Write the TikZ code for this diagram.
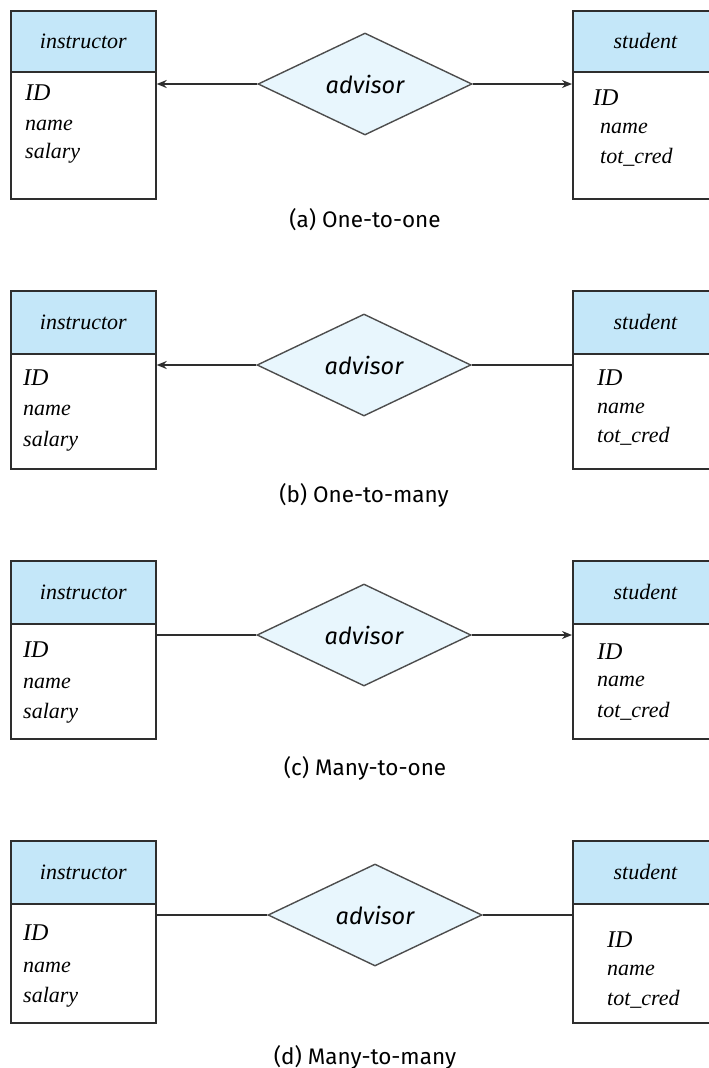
\documentclass[tikz,border=0pt]{standalone}
\usepackage{fontspec}
\setmainfont{Liberation Serif}
\newfontfamily\labelsans{Fira Sans}
\usetikzlibrary{shapes.geometric,arrows.meta}
\definecolor{hdrblue}{HTML}{C4E7F9}
\definecolor{relblue}{HTML}{E8F6FD}
\definecolor{ink}{HTML}{2E2E2E}
\begin{document}
\begin{tikzpicture}[x=1pt,y=-1pt,
  hdr/.style={draw=ink, line width=1.7pt, fill=hdrblue, minimum width=145pt, anchor=north west, inner sep=0pt, font=\fontsize{22}{24}\selectfont\itshape},
  bodybox/.style={draw=ink, line width=1.7pt, fill=white, minimum width=145pt, anchor=north west, inner sep=0pt},
  attr/.style={anchor=base west, inner sep=0pt, font=\fontsize{22}{24}\selectfont\itshape},
  idattr/.style={anchor=base west, inner sep=0pt, font=\fontsize{24}{26}\selectfont\itshape},
  rel/.style={diamond, draw=ink!85, line width=1.4pt, fill=relblue, minimum width=214pt, minimum height=102pt, inner sep=0pt, font=\labelsans\itshape\fontsize{23.5}{26}\selectfont},
  conn/.style={draw=ink, line width=1.6pt},
  tip/.style={-{Stealth[length=10pt,width=8pt]}},
  capt/.style={inner sep=0pt, font=\labelsans\fontsize{22.5}{26}\selectfont}]
\useasboundingbox (0,0) rectangle (709,1068);

% ---------- (a) One-to-one ----------
\node[bodybox, minimum height=127pt] (iab) at (10,71) {};
\node[hdr, minimum height=61pt] (iah) at (10,10) {instructor};
\node[idattr] (iaid) at (25,100) {ID};
\node[attr] (ianame) at (25,130) {name};
\node[attr] (iasal) at (25,158) {salary};
\node[bodybox, minimum height=127pt] (sab) at (572,71) {};
\node[hdr, minimum height=61pt] (sah) at (572,10) {student};
\node[idattr] (said) at (593,105) {ID};
\node[attr] (saname) at (600,133) {name};
\node[attr] (satot) at (600,163) {tot\_cred};
\node[rel] (ra) at (365,84) {advisor};
\draw[conn,tip] (ra.west) -- (ra.west -| iab.east);
\draw[conn,tip] (ra.east) -- (ra.east -| sab.west);
\node[capt] (capa) at (365,220) {(a) One-to-one};

% ---------- (b) One-to-many ----------
\node[bodybox, minimum height=115pt] (ibb) at (10,353) {};
\node[hdr, minimum height=63pt] (ibh) at (10,290) {instructor};
\node[idattr] (ibid) at (23,385) {ID};
\node[attr] (ibname) at (23,415) {name};
\node[attr] (ibsal) at (23,446) {salary};
\node[bodybox, minimum height=115pt] (sbb) at (572,353) {};
\node[hdr, minimum height=63pt] (sbh) at (572,290) {student};
\node[idattr] (sbid) at (597,385) {ID};
\node[attr] (sbname) at (597,413) {name};
\node[attr] (sbtot) at (597,442) {tot\_cred};
\node[rel] (rb) at (364,365) {advisor};
\draw[conn,tip] (rb.west) -- (rb.west -| ibb.east);
\draw[conn] (rb.east) -- (rb.east -| sbb.west);
\node[capt] (capb) at (364,495) {(b) One-to-many};

% ---------- (c) Many-to-one ----------
\node[bodybox, minimum height=115pt] (icb) at (10,623) {};
\node[hdr, minimum height=63pt] (ich) at (10,560) {instructor};
\node[idattr] (icid) at (23,657) {ID};
\node[attr] (icname) at (23,688) {name};
\node[attr] (icsal) at (23,718) {salary};
\node[bodybox, minimum height=115pt] (scb) at (572,623) {};
\node[hdr, minimum height=63pt] (sch) at (572,560) {student};
\node[idattr] (scid) at (597,659) {ID};
\node[attr] (scname) at (597,686) {name};
\node[attr] (sctot) at (597,717) {tot\_cred};
\node[rel] (rc) at (364,635) {advisor};
\draw[conn] (rc.west) -- (rc.west -| icb.east);
\draw[conn,tip] (rc.east) -- (rc.east -| scb.west);
\node[capt] (capc) at (365,768) {(c) Many-to-one};

% ---------- (d) Many-to-many ----------
\node[bodybox, minimum height=119pt] (idb) at (10,903) {};
\node[hdr, minimum height=63pt] (idh) at (10,840) {instructor};
\node[idattr] (idid) at (23,940) {ID};
\node[attr] (idname) at (23,972) {name};
\node[attr] (idsal) at (23,1002) {salary};
\node[bodybox, minimum height=119pt] (sdb) at (572,903) {};
\node[hdr, minimum height=63pt] (sdh) at (572,840) {student};
\node[idattr] (sdid) at (607,947) {ID};
\node[attr] (sdname) at (607,975) {name};
\node[attr] (sdtot) at (607,1005) {tot\_cred};
\node[rel] (rd) at (375,915) {advisor};
\draw[conn] (rd.west) -- (rd.west -| idb.east);
\draw[conn] (rd.east) -- (rd.east -| sdb.west);
\node[capt] (capd) at (365,1057) {(d) Many-to-many};
\end{tikzpicture}
\end{document}
